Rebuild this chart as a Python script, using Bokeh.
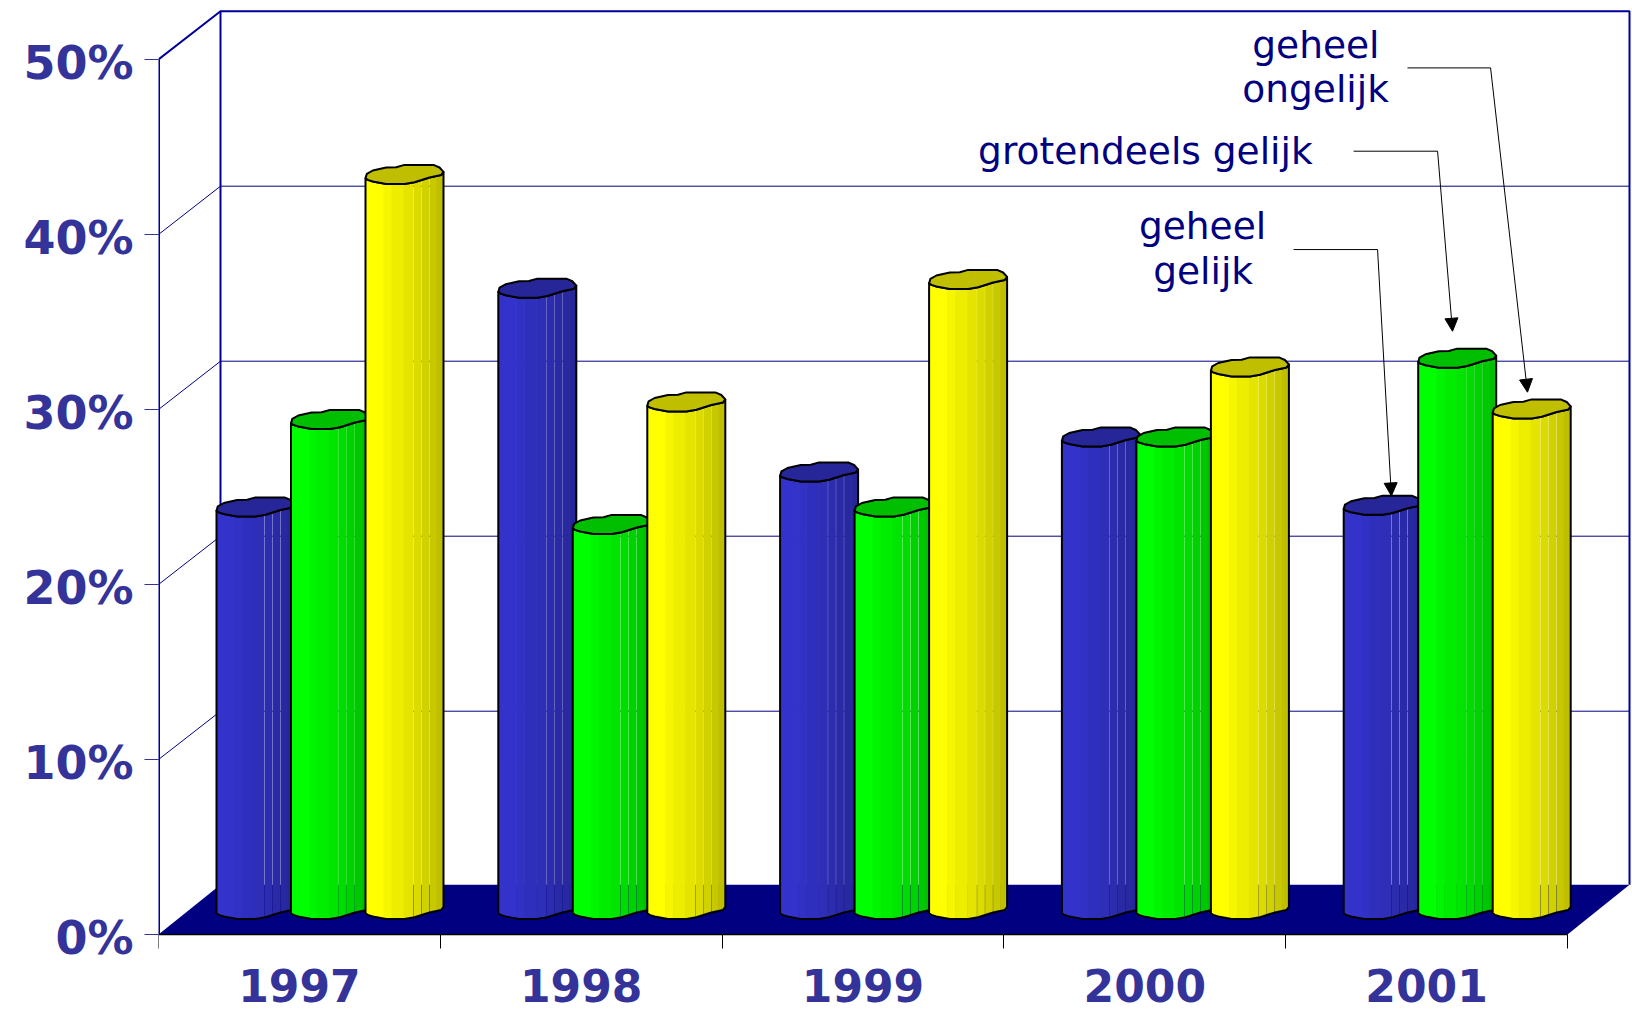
from bokeh.plotting import figure
from bokeh.embed import file_html
from bokeh.resources import INLINE
from bokeh.core.properties import value
from bokeh.models import (ColumnDataSource, FixedTicker, Range1d,
                          LinearAxis, Arrow, NormalHead)
import numpy as np

# ---- data ----
years = ["1997", "1998", "1999", "2000", "2001"]
geheel_gelijk = [23.0, 35.5, 25.0, 27.0, 23.1]
grotendeels_gelijk = [28.0, 22.0, 23.0, 27.0, 31.5]
geheel_ongelijk = [42.0, 29.0, 36.0, 31.0, 28.6]
y_ticks = [0, 10, 20, 30, 40, 50]
annotation_texts = ["geheel", "ongelijk", "grotendeels gelijk", "geheel", "gelijk"]
annotation_x = [4.107, 4.106, 3.502, 3.705, 3.707]
annotation_y = [50.84, 48.29, 44.80, 40.50, 37.93]
leader_x = [[4.432, 4.727, 4.858], [4.241, 4.539, 4.592], [4.028, 4.326, 4.375]]
leader_y = [[49.52, 49.52, 30.99], [44.76, 44.76, 34.47], [39.14, 39.14, 25.06]]

# ---- scale: pixels per unit ----
PX_CAT = 281.8      # pixels per year slot
PX_PCT = 17.5       # pixels per percentage point
FRAME_W, FRAME_H = 1474, 926
BELOW_ZERO = 4      # the frame runs this many points under 0 so the tick labels can hang lower
DX = 62 / PX_CAT    # oblique depth of the walls
DY = 48.3 / PX_PCT
FLOOR_DY = 49.7 / PX_PCT
LABEL_DROP = 0.2    # percent tick labels sit a little under their ticks
NAVY = "#000099"

p = figure(width=1632, height=1011, output_backend="svg", toolbar_location=None,
           x_range=Range1d(0, FRAME_W / PX_CAT), y_range=Range1d(-BELOW_ZERO, FRAME_H / PX_PCT),
           min_border_left=158, min_border_right=0, min_border_top=8,
           min_border_bottom=77 - int(BELOW_ZERO * PX_PCT),
           outline_line_color=None, background_fill_color="white", border_fill_color="white",
           x_axis_type=None, y_axis_type=None)
p.grid.visible = False

n = len(years)

# floor
p.patch([0, n, n + DX, DX], [0, 0, FLOOR_DY, FLOOR_DY], fill_color="#000080", line_color=None)

# wall gridlines (back wall + left wall diagonal)
for t in y_ticks[1:-1]:
    p.line([0, DX, n + DX], [t, t + DY, t + DY], line_color="#000080", line_width=1)
# wall frame
top = y_ticks[-1]
p.line([0, DX, n + DX, n + DX], [top, top + DY, top + DY, FLOOR_DY], line_color=NAVY, line_width=2)
p.line([DX, DX], [FLOOR_DY, top + DY], line_color=NAVY, line_width=2)
p.line([0, 0], [0, top], line_color=NAVY, line_width=3)   # half of it is clipped by the frame edge

# cylinders
FRONT_X = np.array([0, 2.3, 7.3, 20.7, 39, 49, 64, 75.7, 78]) / PX_CAT
FRONT_Y = -np.array([0, 1.7, 3.3, 5.7, 5.7, 4, -0.7, -3.3, -6.3]) / PX_PCT
BACK_X = np.array([74, 68, 39, 30.7, 20.7, 7.3, 1.3]) / PX_CAT
BACK_Y = -np.array([-10.7, -13.3, -13.3, -11, -10.7, -7.7, -4.3]) / PX_PCT
EDGES_PX = [0, 18, 26, 38, 48, 56, 64, 71, 78]
BANDS = np.array(EDGES_PX) / PX_CAT
SEAMS = {48, 56, 64}
SEAM_GAP = 0.2 / PX_CAT
UNDERLAP = 0.6 / PX_CAT
SHADE = [1.0, 0.965, 0.93, 0.895, 0.86, 0.82, 0.785, 0.75]
BASE = (934.3 - 913) / PX_PCT
OFFSET = 58 / PX_CAT
STEP = 74.5 / PX_CAT

def shade(rgb, f):
    return "#%02x%02x%02x" % tuple(int(round(c * f)) for c in rgb)

series = [(geheel_gelijk, (0x33, 0x33, 0xCC)),
          (grotendeels_gelijk, (0x00, 0xFF, 0x00)),
          (geheel_ongelijk, (0xFF, 0xFF, 0x00))]

for s, (vals, rgb) in enumerate(series):
    bx, by, bc, ox, oy, tx, ty = [], [], [], [], [], [], []
    for g, v in enumerate(vals):
        x0 = g + OFFSET + s * STEP
        ytop = BASE + v
        for b in range(len(SHADE)):
            a = BANDS[b]
            if EDGES_PX[b + 1] in SEAMS:
                z = BANDS[b + 1] - SEAM_GAP
            else:
                z = min(BANDS[b + 1] + UNDERLAP, BANDS[-1])
            inner = FRONT_X[(FRONT_X > a) & (FRONT_X < z)]
            xs = np.concatenate([[a], inner, [z]])
            ys = np.interp(xs, FRONT_X, FRONT_Y)
            bx.append(list(x0 + xs) + list(x0 + xs[::-1]))
            by.append(list(ytop + ys) + list(BASE + ys[::-1]))
            bc.append(shade(rgb, SHADE[b]))
        ox.append(list(x0 + FRONT_X) + list(x0 + FRONT_X[::-1]))
        oy.append(list(BASE + FRONT_Y) + list(ytop + FRONT_Y[::-1]))
        tx.append(list(x0 + FRONT_X) + list(x0 + BACK_X))
        ty.append(list(ytop + FRONT_Y) + list(ytop + BACK_Y))
    p.patches("xs", "ys", fill_color="c", line_color=None,
              source=ColumnDataSource(dict(xs=bx, ys=by, c=bc)))
    p.patches(ox, oy, fill_color=None, line_color="black", line_width=2, line_join="round")
    p.patches(tx, ty, fill_color=shade(rgb, 0.75), line_color="black", line_width=2, line_join="round")

# annotations
p.text(annotation_x, annotation_y, text=annotation_texts, text_font=value("DejaVu Sans"),
       text_font_size="37.5px", text_color="#000080", text_align="center", text_baseline="alphabetic")
for lx, ly in zip(leader_x, leader_y):
    p.line(lx[:2], ly[:2], line_color="black", line_width=1)
    p.add_layout(Arrow(x_start=lx[1], y_start=ly[1], x_end=lx[2], y_end=ly[2],
                       line_color="black", line_width=1,
                       end=NormalHead(size=13, fill_color="black", line_color="black", line_width=1)))

# axes
yax = LinearAxis(ticker=FixedTicker(ticks=[t - LABEL_DROP for t in y_ticks], minor_ticks=y_ticks),
                 major_label_overrides={t - LABEL_DROP: f"{t}%" for t in y_ticks},
                 bounds=(-LABEL_DROP, top), axis_line_color=None,
                 major_tick_line_color=None, major_tick_in=0, major_tick_out=0,
                 minor_tick_line_color="#333399", minor_tick_line_width=1, minor_tick_in=0, minor_tick_out=14,
                 major_label_standoff=11, major_label_text_font="DejaVu Sans",
                 major_label_text_font_style="bold", major_label_text_font_size="46px",
                 major_label_text_color="#333399")
p.add_layout(yax, "left")
xax = LinearAxis(ticker=FixedTicker(ticks=[i + 0.5 for i in range(n)], minor_ticks=list(range(n + 1))),
                 major_label_overrides={i + 0.5: y for i, y in enumerate(years)},
                 bounds=(0, n), axis_line_color="black", axis_line_width=1.5, fixed_location=0,
                 major_tick_line_color=None, major_tick_in=0, major_tick_out=0,
                 minor_tick_line_color="black", minor_tick_line_width=1, minor_tick_in=0, minor_tick_out=14,
                 major_label_standoff=20, major_label_text_font="DejaVu Sans",
                 major_label_text_font_style="bold", major_label_text_font_size="44px",
                 major_label_text_color="#333399")
p.add_layout(xax, "below")

open("out.html", "w").write(file_html(p, INLINE))
